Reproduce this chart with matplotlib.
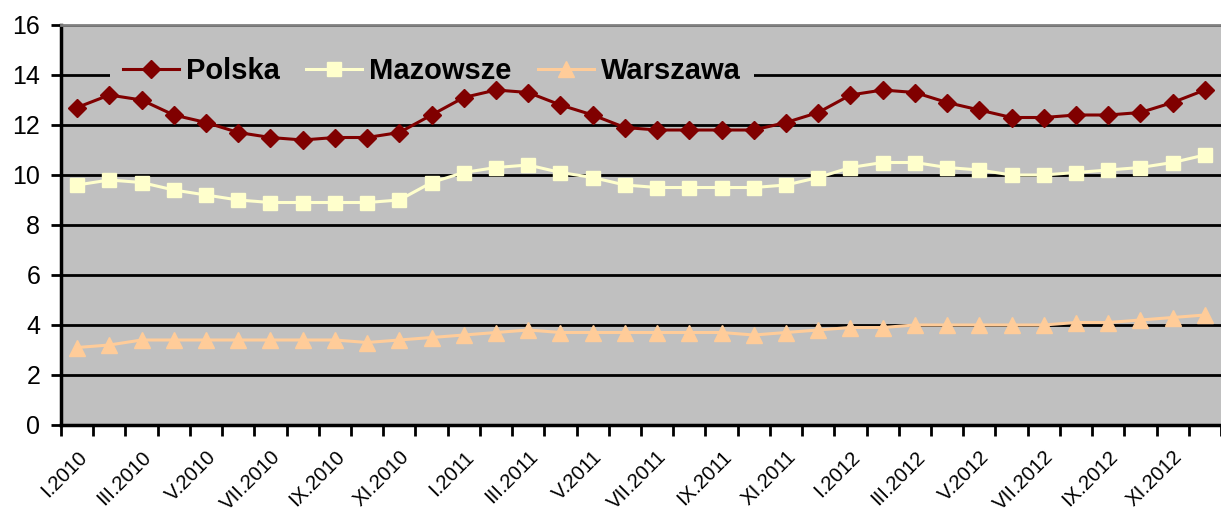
import matplotlib.pyplot as plt
import matplotlib.transforms as mtransforms
import numpy as np

plt.rcParams['font.family'] = ['Liberation Sans', 'DejaVu Sans']

roman = ['I', 'II', 'III', 'IV', 'V', 'VI', 'VII', 'VIII', 'IX', 'X', 'XI', 'XII']
months = ['%s.%d' % (r, y) for y in (2010, 2011, 2012) for r in roman]

polska = [12.7, 13.2, 13.0, 12.4, 12.1, 11.7, 11.5, 11.4, 11.5, 11.5, 11.7, 12.4,
          13.1, 13.4, 13.3, 12.8, 12.4, 11.9, 11.8, 11.8, 11.8, 11.8, 12.1, 12.5,
          13.2, 13.4, 13.3, 12.9, 12.6, 12.3, 12.3, 12.4, 12.4, 12.5, 12.9, 13.4]
mazowsze = [9.6, 9.8, 9.7, 9.4, 9.2, 9.0, 8.9, 8.9, 8.9, 8.9, 9.0, 9.7,
            10.1, 10.3, 10.4, 10.1, 9.9, 9.6, 9.5, 9.5, 9.5, 9.5, 9.6, 9.9,
            10.3, 10.5, 10.5, 10.3, 10.2, 10.0, 10.0, 10.1, 10.2, 10.3, 10.5, 10.8]
warszawa = [3.1, 3.2, 3.4, 3.4, 3.4, 3.4, 3.4, 3.4, 3.4, 3.3, 3.4, 3.5,
            3.6, 3.7, 3.8, 3.7, 3.7, 3.7, 3.7, 3.7, 3.7, 3.6, 3.7, 3.8,
            3.9, 3.9, 4.0, 4.0, 4.0, 4.0, 4.0, 4.1, 4.1, 4.2, 4.3, 4.4]

fig = plt.figure(figsize=(12.21, 5.14), dpi=100)
ax = fig.add_axes([61 / 1221, 89 / 514, 1160 / 1221, 400 / 514])
ax.set_facecolor('#C0C0C0')

x = np.arange(len(months))
ax.plot(x, polska, color='#800000', marker='D', markersize=9, linewidth=2.2, label='Polska', zorder=3)
ax.plot(x, mazowsze, color='#FFFFCC', marker='s', markersize=10, linewidth=2.2, label='Mazowsze', zorder=3)
ax.plot(x, warszawa, color='#FFCC99', marker='^', markersize=11, linewidth=2.2, label='Warszawa', zorder=3)

ax.set_ylim(0, 16)
ax.set_xlim(-0.5, -0.5 + 1160 / 32.55)
ax.set_yticks(range(0, 17, 2))
ax.yaxis.grid(True, color='black', linewidth=2)
ax.set_axisbelow(True)

ax.set_xticks(x[::2])
ax.set_xticklabels(months[::2], rotation=45, ha='right', va='top',
                   rotation_mode='anchor', fontsize=14.7)
# przesuniecie etykiet w lewo
shift = mtransforms.ScaledTranslation(-0.12, 0, fig.dpi_scale_trans)
for lab in ax.get_xticklabels():
    lab.set_transform(lab.get_transform() + shift)
ax.set_xticks(np.arange(-0.5, len(months), 1), minor=True)
ax.tick_params(axis='x', which='major', length=0, pad=16)
ax.tick_params(axis='x', which='minor', length=8, width=2, direction='out')
ax.tick_params(axis='y', length=7, width=2, labelsize=18, pad=8)

for s in ('left', 'bottom'):
    ax.spines[s].set_linewidth(2.5)
    ax.spines[s].set_color('black')
ax.spines['right'].set_visible(False)
ax.spines['top'].set_color('#808080')
ax.spines['top'].set_linewidth(2)

leg = ax.legend(loc='center left', bbox_to_anchor=(0.042, 0.885), ncol=3,
                frameon=True, facecolor='#C0C0C0', edgecolor='none', framealpha=1,
                prop={'weight': 'bold', 'size': 21}, handlelength=1.92,
                columnspacing=0.9, handletextpad=0.24, borderpad=0.45,
                borderaxespad=0)
leg.set_zorder(2)

fig.savefig('out.png')
